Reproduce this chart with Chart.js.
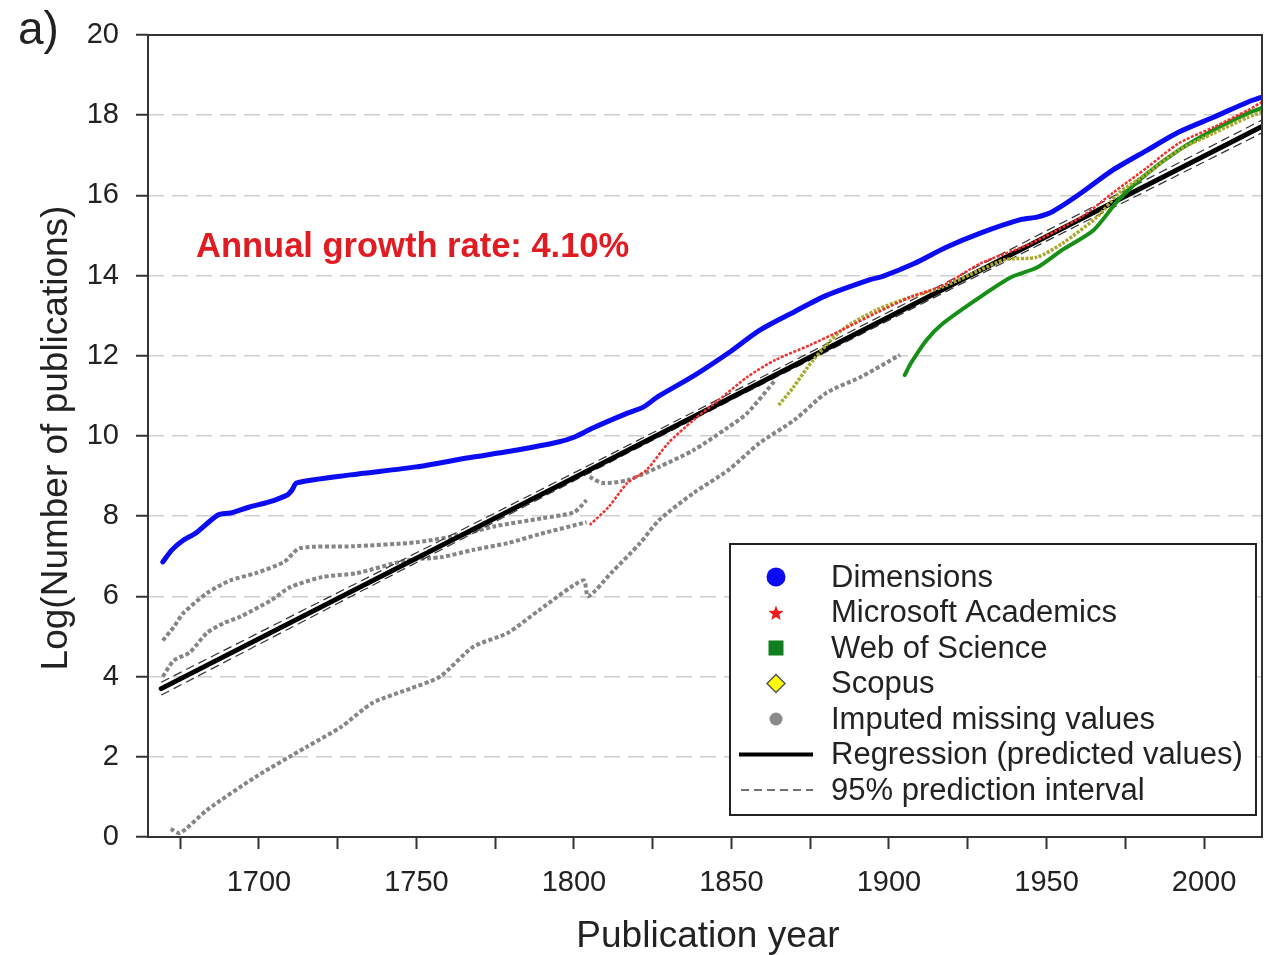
<!DOCTYPE html>
<html>
<head>
<meta charset="utf-8">
<script src="https://cdn.jsdelivr.net/npm/chart.js@4/dist/chart.umd.min.js"></script>
<style>
  html, body { margin: 0; padding: 0; background: #fff; }
  #wrap { position: relative; width: 1270px; height: 955px; }
</style>
</head>
<body>
<div id="wrap"><canvas id="grafico" width="1270" height="955"></canvas></div>
<script>
// DATOS
const dimYears = [1669.5, 1672.4, 1676, 1680, 1687, 1691, 1697, 1703, 1709, 1710.5, 1712, 1729, 1750, 1766, 1782, 1795, 1800, 1806, 1817, 1822, 1827, 1838, 1849, 1859, 1870, 1880, 1894, 1898, 1908, 1918, 1929, 1942, 1947, 1952, 1961, 1971, 1982, 1992, 2003, 2014, 2018.4];
const dimValues = [6.86, 7.16, 7.40, 7.58, 8.03, 8.08, 8.23, 8.35, 8.53, 8.65, 8.83, 9.03, 9.23, 9.45, 9.65, 9.85, 9.97, 10.2, 10.57, 10.72, 11.0, 11.5, 12.07, 12.64, 13.1, 13.5, 13.9, 13.98, 14.3, 14.7, 15.06, 15.4, 15.46, 15.6, 16.06, 16.63, 17.13, 17.58, 17.95, 18.33, 18.45];

const msYears = [1805, 1811, 1817, 1823, 1830, 1838, 1846, 1855, 1864, 1875, 1885, 1896, 1907, 1917, 1929, 1945, 1961, 1971, 1982, 1992, 2003, 2014, 2018.4];
const msValues = [7.78, 8.23, 8.83, 9.15, 9.83, 10.4, 10.9, 11.47, 11.9, 12.27, 12.64, 13.07, 13.47, 13.75, 14.3, 14.8, 15.46, 16.06, 16.7, 17.3, 17.7, 18.13, 18.33];

const wosYears = [1905, 1907, 1912, 1917, 1929, 1939, 1947, 1955, 1965, 1973, 1982, 1992, 2003, 2014, 2018.4];
const wosValues = [11.52, 11.82, 12.4, 12.8, 13.47, 13.97, 14.2, 14.64, 15.14, 15.9, 16.55, 17.13, 17.63, 18.05, 18.18];

const scopusYears = [1865, 1869.5, 1876, 1885, 1896, 1907, 1917, 1929, 1937, 1947, 1955, 1966, 1973, 1982, 1992, 2003, 2014, 2018.4];
const scopusValues = [10.77, 11.2, 11.9, 12.64, 13.14, 13.47, 13.72, 14.14, 14.4, 14.46, 14.8, 15.46, 16.06, 16.55, 17.13, 17.55, 17.95, 18.08];

// valores imputados (gris)
const impMsYears = [1669.5, 1673, 1676, 1683.5, 1691, 1699, 1708, 1713, 1730, 1750, 1765, 1775, 1790, 1800, 1804];
const impMsValues = [4.9, 5.24, 5.58, 6.08, 6.4, 6.58, 6.86, 7.2, 7.25, 7.35, 7.55, 7.75, 7.95, 8.1, 8.4];

const impScopusYears = [1669.5, 1673, 1678, 1683.5, 1689, 1694, 1704, 1710, 1720, 1731, 1747, 1758, 1768, 1779, 1789, 1804];
const impScopusValues = [4.0, 4.4, 4.6, 5.09, 5.34, 5.49, 5.91, 6.23, 6.48, 6.58, 6.9, 6.98, 7.16, 7.33, 7.55, 7.85];
const impScopusYears2 = [1805, 1809, 1817, 1827, 1838, 1849, 1855, 1864];
const impScopusValues2 = [8.98, 8.83, 8.9, 9.23, 9.65, 10.22, 10.57, 11.4];

const impWosYears = [1672, 1675, 1683.5, 1699, 1715, 1726, 1736, 1748, 1757.5, 1768, 1779, 1789, 1803, 1804.5, 1812, 1821, 1827, 1838, 1849, 1859, 1870, 1880, 1891, 1903.5];
const impWosValues = [0.2, 0.1, 0.67, 1.5, 2.24, 2.74, 3.34, 3.7, 4.0, 4.74, 5.09, 5.66, 6.4, 6.0, 6.6, 7.33, 7.9, 8.58, 9.15, 9.83, 10.4, 11.07, 11.47, 12.02];

// regresion e intervalo de prediccion
const regYears = [1669, 2018.4];
const regValues = [3.70, 17.72];
const piYears = [1669, 1843, 2018.4];
const piUpper = [3.86, 10.80, 17.88];
const piLower = [3.54, 10.62, 17.56];

const yTicks = [0, 2, 4, 6, 8, 10, 12, 14, 16, 18, 20];

const legendItems = ['Dimensions', 'Microsoft Academics', 'Web of Science', 'Scopus', 'Imputed missing values', 'Regression (predicted values)', '95% prediction interval'];

// ----------------------------
const FONT = "'Liberation Sans', Arial, sans-serif";
const pts = (xs, ys) => xs.map((x, i) => ({ x: x, y: ys[i] }));

function serie(xs, ys, color, width, dash) {
    return {
        data: pts(xs, ys),
        borderColor: color,
        backgroundColor: color,
        borderWidth: width,
        borderDash: dash || [],
        pointRadius: 0,
        tension: 0.25,
        borderCapStyle: dash ? 'butt' : 'round',
        borderJoinStyle: 'round',
        fill: false
    };
}

const GRIS = '#858585';

const datasets = [
    serie(dimYears, dimValues, '#0c0cf2', 5),
    serie(msYears, msValues, '#f23030', 2.5, [3, 1.5]),
    serie(scopusYears, scopusValues, '#a9a92c', 3.5, [3, 1.5]),
    serie(wosYears, wosValues, '#178f17', 4),
    serie(regYears, regValues, '#000000', 5),
    serie(piYears, piUpper, '#333333', 1.2, [9, 5]),
    serie(piYears, piLower, '#333333', 1.2, [9, 5]),
    serie(impMsYears, impMsValues, GRIS, 4, [4, 2.5]),
    serie(impScopusYears, impScopusValues, GRIS, 4, [4, 2.5]),
    serie(impScopusYears2, impScopusValues2, GRIS, 4, [4, 2.5]),
    serie(impWosYears, impWosValues, GRIS, 4, [4, 2.5])
];

// marco, textos y leyenda
const extras = {
    id: 'extras',
    afterDraw(chart) {
        const ctx = chart.ctx;
        const a = chart.chartArea;
        ctx.save();

        // marco
        ctx.strokeStyle = '#333';
        ctx.lineWidth = 2;
        ctx.strokeRect(a.left, a.top, a.right - a.left, a.bottom - a.top);

        ctx.fillStyle = '#222';
        ctx.font = '46px ' + FONT;
        ctx.textAlign = 'left';
        ctx.textBaseline = 'alphabetic';
        ctx.fillText('a)', 18, 44);

        // titulos de ejes
        ctx.font = '37px ' + FONT;
        ctx.textAlign = 'center';
        ctx.textBaseline = 'middle';
        ctx.fillText('Publication year', 708, 937);
        ctx.save();
        ctx.translate(57, 438);
        ctx.rotate(-Math.PI / 2);
        ctx.font = '37px ' + FONT;
        ctx.fillText('Log(Number of publications)', 0, 0);
        ctx.restore();

        // anotacion
        ctx.fillStyle = '#e11b22';
        ctx.font = 'bold 34.5px ' + FONT;
        ctx.textAlign = 'left';
        ctx.textBaseline = 'alphabetic';
        ctx.fillText('Annual growth rate: 4.10%', 196, 257);

        // LEYENDA
        const bx = 730, by = 544, bw = 526, bh = 271;
        ctx.fillStyle = '#fff';
        ctx.fillRect(bx, by, bw, bh);
        ctx.strokeStyle = '#222';
        ctx.lineWidth = 2;
        ctx.strokeRect(bx, by, bw, bh);

        const sx = 776, tx = 831, y0 = 577, dy = 35.5;
        ctx.font = '31px ' + FONT;
        ctx.textBaseline = 'middle';
        legendItems.forEach((txt, i) => {
            const y = y0 + i * dy;
            ctx.fillStyle = '#222';
            ctx.fillText(txt, tx, y + 1);
            ctx.setLineDash([]);
            if (i === 0) {
                ctx.fillStyle = '#0c0cf2';
                ctx.beginPath(); ctx.arc(sx, y, 9.5, 0, Math.PI * 2); ctx.fill();
            } else if (i === 1) {
                ctx.fillStyle = '#f01818';
                ctx.beginPath();
                for (let k = 0; k < 10; k++) {
                    const r = k % 2 === 0 ? 8 : 3.4;
                    const ang = -Math.PI / 2 + k * Math.PI / 5;
                    const px = sx + r * Math.cos(ang), py = y + 1 + r * Math.sin(ang);
                    k === 0 ? ctx.moveTo(px, py) : ctx.lineTo(px, py);
                }
                ctx.closePath(); ctx.fill();
            } else if (i === 2) {
                ctx.fillStyle = '#0f7f1f';
                ctx.fillRect(sx - 7.5, y - 7.5, 15, 15);
            } else if (i === 3) {
                ctx.fillStyle = '#ffff00';
                ctx.strokeStyle = '#555';
                ctx.lineWidth = 1.5;
                ctx.beginPath();
                ctx.moveTo(sx, y - 9); ctx.lineTo(sx + 9, y); ctx.lineTo(sx, y + 9); ctx.lineTo(sx - 9, y);
                ctx.closePath(); ctx.fill(); ctx.stroke();
            } else if (i === 4) {
                ctx.fillStyle = '#8a8a8a';
                ctx.beginPath(); ctx.arc(sx, y, 6.5, 0, Math.PI * 2); ctx.fill();
            } else if (i === 5) {
                ctx.strokeStyle = '#000';
                ctx.lineWidth = 4;
                ctx.beginPath(); ctx.moveTo(739, y); ctx.lineTo(813, y); ctx.stroke();
            } else {
                ctx.strokeStyle = '#444';
                ctx.lineWidth = 1.5;
                ctx.setLineDash([8, 5]);
                ctx.beginPath(); ctx.moveTo(741, y); ctx.lineTo(813, y); ctx.stroke();
                ctx.setLineDash([]);
            }
        });
        ctx.restore();
    }
};

Chart.defaults.font.family = FONT;

new Chart(document.getElementById('grafico'), {
    type: 'line',
    data: { datasets: datasets },
    options: {
        responsive: false,
        devicePixelRatio: 1,
        animation: false,
        layout: { padding: { left: 0, right: 8, top: 35, bottom: 0 } },
        plugins: { legend: { display: false }, tooltip: { enabled: false } },
        scales: {
            x: {
                type: 'linear',
                min: 1664.8,
                max: 2018.4,
                afterFit: s => { s.height = 118; },
                ticks: {
                    stepSize: 25,
                    includeBounds: false,
                    autoSkip: false,
                    maxRotation: 0,
                    padding: 17,
                    color: '#222',
                    font: { size: 29 },
                    callback: v => (v % 50 === 0 ? String(v) : '')
                },
                grid: { drawOnChartArea: false, tickLength: 12, tickColor: '#333', tickWidth: 2 },
                border: { display: false }
            },
            y: {
                min: 0,
                max: 20,
                afterFit: s => { s.width = 148; },
                afterBuildTicks: s => { s.ticks = yTicks.map(v => ({ value: v })); },
                ticks: { padding: 17, color: '#222', font: { size: 29 } },
                grid: {
                    color: c => (c.tick && (c.tick.value === 0 || c.tick.value === 20)) ? 'rgba(0,0,0,0)' : '#cfcfcf',
                    lineWidth: 1.5,
                    tickLength: 12,
                    tickColor: '#333',
                    tickWidth: 2
                },
                border: { display: false, dash: [16, 8] }
            }
        }
    },
    plugins: [extras]
});
</script>
</body>
</html>
